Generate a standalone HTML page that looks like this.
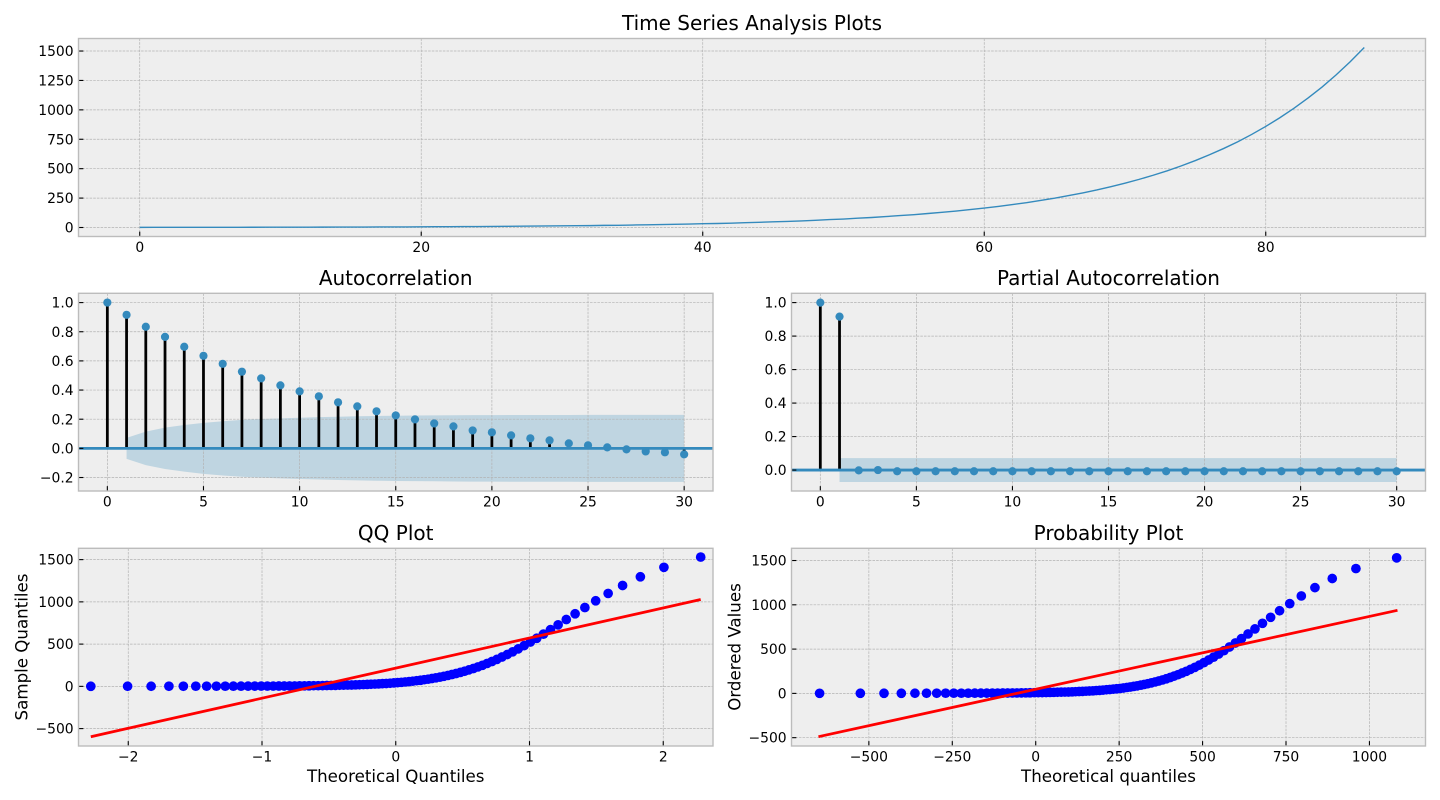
<!DOCTYPE html>
<html lang="en">
<head>
<meta charset="utf-8">
<title>Time Series Analysis Plots</title>
<style>
html,body{margin:0;padding:0;background:#fff;width:1440px;height:800px;overflow:hidden}
svg{display:block;font-family:"DejaVu Sans","Liberation Sans",sans-serif;fill:#000}
.title{font-size:20px;text-anchor:middle}
.label{font-size:16.67px;text-anchor:middle}
.tick{font-size:13.89px}
</style>
</head>
<body>
<svg id="chart" xmlns="http://www.w3.org/2000/svg" width="1440" height="800" viewBox="0 0 1440 800">
  <rect x="0" y="0" width="1440" height="800" fill="#ffffff"/>
  <g id="plots"></g>
  <text class="title" x="752" y="30">Time Series Analysis Plots</text>
  <text class="title" x="395.7" y="285">Autocorrelation</text>
  <text class="title" x="1108.5" y="285">Partial Autocorrelation</text>
  <text class="title" x="395.7" y="540">QQ Plot</text>
  <text class="title" x="1108.5" y="540">Probability Plot</text>
  <text class="label" x="395.7" y="782">Theoretical Quantiles</text>
  <text class="label" x="1108.5" y="782">Theoretical quantiles</text>
  <text class="label" transform="translate(27.5,647) rotate(-90)">Sample Quantiles</text>
  <text class="label" transform="translate(740.5,647) rotate(-90)">Ordered Values</text>
</svg>
<script>
// ---- data ----
const series = [1.0,1.2,1.3,1.4,1.5,1.7,1.8,2.0,2.1,2.3,
  2.5,2.7,2.9,3.2,3.4,3.7,4.0,4.4,4.8,5.2,
  6,6.5,7,8,8,9,10,11,12,13,
  14,15,16,18,19,21,23,25,27,29,
  32,34,37,41,44,48,52,56,61,67,
  72,79,85,93,101,109,119,129,140,152,
  165,179,195,211,230,249,271,294,319,347,
  377,409,444,482,524,569,618,671,728,791,
  859,933,1013,1100,1194,1297,1409,1530];
const acfValues = [1,.916,.834,.765,.697,.635,.580,.526,.480,.432,.391,.357,.316,.288,.254,.226,.199,.171,.151,.123,.110,.089,.069,.055,.034,.021,.007,-.007,-.021,-.027,-.041];
const acfBand = [.072,.115,.142,.160,.175,.186,.195,.201,.206,.210,.214,.217,.220,.222,.224,.225,.226,.227,.228,.228,.229,.229,.229,.229,.230,.230,.230,.230,.230,.230];
const pacfValues = [1,.916,-.002,0,-.007,-.007,-.007,-.007,-.007,-.007,-.007,-.007,-.007,-.007,-.007,-.007,-.007,-.007,-.007,-.007,-.007,-.007,-.007,-.007,-.007,-.007,-.007,-.007,-.007,-.007,-.007];
const pacfBand = [.0716,.0716,.0716,.0716,.0716,.0716,.0716,.0716,.0716,.0716,.0716,.0716,.0716,.0716,.0716,.0716,.0716,.0716,.0716,.0716,.0716,.0716,.0716,.0716,.0716,.0716,.0716,.0716,.0716,.0716];
const qqTheoretical = [-2.28,-2.005,-1.829,-1.696,-1.588,-1.495,-1.414,-1.341,-1.275,-1.214,-1.157,-1.104,-1.054,-1.006,-.96,-.916,-.874,-.834,-.794,-.756,-.719,-.683,-.648,-.614,-.58,-.547,-.515,-.483,-.451,-.42,-.39,-.359,-.33,-.3,-.271,-.242,-.213,-.185,-.156,-.127,-.099,-.071,-.042,-.014,
  .014,.042,.071,.099,.127,.156,.185,.213,.242,.271,.3,.33,.359,.39,.42,.451,.483,.515,.547,.58,.614,.648,.683,.719,.756,.794,.834,.874,.916,.96,1.006,1.054,1.104,1.157,1.214,1.275,1.341,1.414,1.495,1.588,1.696,1.829,2.005,2.28];
const probTheoretical = [-647.6,-525.5,-454.6,-402.7,-361.9,-327.2,-296.7,-269.9,-245.5,-223,-202.2,-182.5,-164.3,-146.7,-129.9,-114.2,-98.8,-84.1,-69.8,-56.2,-42.9,-29.7,-17.1,-4.6,7.6,19.4,31.2,42.7,54.1,65.2,76.3,87.4,98.1,108.9,119.3,130,140.4,150.8,160.8,171.2,181.2,191.6,201.6,212,
  222,232.4,242.4,252.8,262.8,273.2,283.2,293.6,304,314.7,325.1,335.9,346.6,357.7,368.8,379.9,391.3,402.8,414.6,426.4,438.6,451.1,463.7,476.9,490.2,503.8,518.1,532.8,548.2,563.9,580.7,598.3,616.5,636.2,657,679.5,703.9,730.7,761.2,795.9,836.7,888.6,959.5,1081.6];
const qqLineX = [-2.28,2.28];
const qqLineY = [-596,1028];
const probLineX = [-651,1084];
const probLineY = [-489,938];
const topXTicks = [0,20,40,60,80];
const topYTicks = [0,250,500,750,1000,1250,1500];
const lagTicks = [0,5,10,15,20,25,30];
const acfYTicks = [-0.2,0,0.2,0.4,0.6,0.8,1];
const pacfYTicks = [0,0.2,0.4,0.6,0.8,1];
const qqXTicks = [-2,-1,0,1,2];
const qqYTicks = [-500,0,500,1000,1500];
const probXTicks = [-500,-250,0,250,500,750,1000];
const probYTicks = [-500,0,500,1000,1500];

// ---- drawing ----
const NS = 'http://www.w3.org/2000/svg';
const root = document.getElementById('plots');
const C0 = '#348ABD';

function mk(tag, parent, attrs){
  const el = document.createElementNS(NS, tag);
  for (const k in attrs) el.setAttribute(k, attrs[k]);
  parent.appendChild(el);
  return el;
}
function scale(d0, d1, r0, r1){
  return v => r0 + (v - d0) * (r1 - r0) / (d1 - d0);
}
function fmt(v, digits){
  return v.toFixed(digits).replace('-', '\u2212');
}
function makePanel(name, box, xlim, ylim){
  const g = mk('g', root, {});
  
  
  const p = {g, box, name,
    x: scale(xlim[0], xlim[1], box.l, box.r),
    y: scale(ylim[0], ylim[1], box.b, box.t)};
  const bg = mk('rect', g, {x: box.l, y: box.t, width: box.r - box.l, height: box.b - box.t, fill: '#eeeeee'});
  
  
  return p;
}
function drawGrid(p, xTicks, yTicks){
  const style = {stroke: '#b2b2b2', 'stroke-width': 0.7, 'stroke-dasharray': '2.57 1.11', fill: 'none'};
  xTicks.forEach(v => {
    const el = mk('line', p.g, Object.assign({x1: p.x(v), x2: p.x(v), y1: p.box.t, y2: p.box.b}, style));
    
    
  });
  yTicks.forEach(v => {
    const el = mk('line', p.g, Object.assign({x1: p.box.l, x2: p.box.r, y1: p.y(v), y2: p.y(v)}, style));
    
    
  });
}
function drawAxes(p, xTicks, yTicks, yDigits){
  const b = p.box;
  xTicks.forEach(v => {
    const t = mk('line', p.g, {x1: p.x(v), x2: p.x(v), y1: b.b, y2: b.b - 4.86, stroke: '#000', 'stroke-width': 1.1});
    
    
    const l = mk('text', p.g, {class: 'tick', x: p.x(v), y: b.b + 15.4, 'text-anchor': 'middle'});
    l.textContent = fmt(v, 0);
    
    
  });
  yTicks.forEach(v => {
    const t = mk('line', p.g, {x1: b.l, x2: b.l + 4.86, y1: p.y(v), y2: p.y(v), stroke: '#000', 'stroke-width': 1.1});
    
    
    const l = mk('text', p.g, {class: 'tick', x: b.l - 4.9, y: p.y(v) + 5.05, 'text-anchor': 'end'});
    l.textContent = fmt(v, yDigits);
    
    
  });
  const f = mk('rect', p.g, {x: b.l, y: b.t, width: b.r - b.l, height: b.b - b.t, fill: 'none', stroke: '#bcbcbc', 'stroke-width': 1.4});
  
  
}
function drawCorrelogram(p, values, band){
  const pts = band.map((w, i) => p.x(i + 1) + ',' + p.y(w))
    .concat(band.map((w, i) => p.x(i + 1) + ',' + p.y(-w)).reverse());
  const poly = mk('polygon', p.g, {points: pts.join(' '), fill: C0, 'fill-opacity': 0.25});
  
  
}
function drawStems(p, values){
  values.forEach((v, i) => {
    const el = mk('line', p.g, {x1: p.x(i), x2: p.x(i), y1: p.y(0), y2: p.y(v), stroke: '#000', 'stroke-width': 2.78});
    
    
  });
  const z = mk('line', p.g, {x1: p.box.l, x2: p.box.r, y1: p.y(0), y2: p.y(0), stroke: C0, 'stroke-width': 2.78});
  
  
  values.forEach((v, i) => {
    const el = mk('circle', p.g, {cx: p.x(i), cy: p.y(v), r: 4.1, fill: C0});
    
    
  });
}
function drawScatter(p, xs, ys, lineX, lineY){
  xs.forEach((v, i) => {
    const el = mk('circle', p.g, {cx: p.x(v), cy: p.y(ys[i]), r: 4.85, fill: '#0000ff'});
    
    
  });
  const l = mk('line', p.g, {x1: p.x(lineX[0]), y1: p.y(lineY[0]), x2: p.x(lineX[1]), y2: p.y(lineY[1]), stroke: '#ff0000', 'stroke-width': 2.78});
  
  
}

const sorted = series.slice().sort((a, b) => a - b);

// time series
const topP = makePanel('time-series-panel', {l: 78.5, r: 1425.5, t: 38.5, b: 236.5}, [-4.35, 91.35], [-76.5, 1606.5]);
drawGrid(topP, topXTicks, topYTicks);
const seriesLine = mk('polyline', topP.g, {points: series.map((v, i) => topP.x(i) + ',' + topP.y(v)).join(' '), fill: 'none', stroke: C0, 'stroke-width': 1.39});


drawAxes(topP, topXTicks, topYTicks, 0);

// ACF
const acfP = makePanel('acf-panel', {l: 78.5, r: 713, t: 293.3, b: 491}, [-1.5, 31.5], [-0.2925, 1.0637]);
drawCorrelogram(acfP, acfValues, acfBand);
drawGrid(acfP, lagTicks, acfYTicks);
drawStems(acfP, acfValues);
drawAxes(acfP, lagTicks, acfYTicks, 1);

// PACF
const pacfP = makePanel('pacf-panel', {l: 791.5, r: 1425.5, t: 293.3, b: 491}, [-1.5, 31.5], [-0.125, 1.0555]);
drawCorrelogram(pacfP, pacfValues, pacfBand);
drawGrid(pacfP, lagTicks, pacfYTicks);
drawStems(pacfP, pacfValues);
drawAxes(pacfP, lagTicks, pacfYTicks, 1);

// QQ
const qqP = makePanel('qq-panel', {l: 78.5, r: 713, t: 548.3, b: 746}, [-2.372, 2.372], [-706, 1634]);
drawGrid(qqP, qqXTicks, qqYTicks);
drawScatter(qqP, qqTheoretical, sorted, qqLineX, qqLineY);
drawAxes(qqP, qqXTicks, qqYTicks, 0);

// Probability
const probP = makePanel('probability-panel', {l: 791.5, r: 1425.5, t: 548.3, b: 746}, [-731.8, 1168], [-594, 1638]);
drawGrid(probP, probXTicks, probYTicks);
drawScatter(probP, probTheoretical, sorted, probLineX, probLineY);
drawAxes(probP, probXTicks, probYTicks, 0);
</script>
</body>
</html>
